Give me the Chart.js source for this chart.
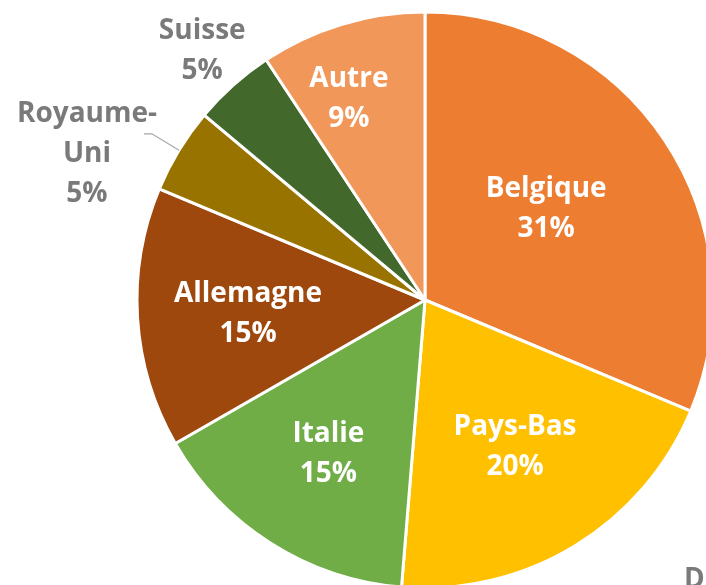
<!DOCTYPE html>
<html>
<head>
<meta charset="utf-8">
<script src="https://cdn.jsdelivr.net/npm/chart.js@4"></script>
<style>
  html, body { margin: 0; padding: 0; background: #fff; }
  #wrap { position: relative; width: 706px; height: 585px; overflow: hidden; }
  #pie { position: absolute; left: 0; top: 0; }
  #cut { position: absolute; left: 684px; top: 558px; font: bold 28px 'Open Sans', sans-serif; color: #7a7a7a; }
</style>
</head>
<body>
<div id="wrap">
  <canvas id="pie" width="850" height="600"></canvas>
  <div id="cut">D</div>
</div>
<script>
const countries = ['Belgique', 'Pays-Bas', 'Italie', 'Allemagne', 'Royaume-Uni', 'Suisse', 'Autre'];
const shares    = [31.3, 20.0, 15.4, 14.6, 4.8, 4.6, 9.3];
// texte affiché (retour à la ligne comme dans l'original)
const labelLines = [['Belgique'], ['Pays-Bas'], ['Italie'], ['Allemagne'], ['Royaume-', 'Uni'], ['Suisse'], ['Autre']];

const COLORS = ['#ED7D31', '#FFC000', '#70AD47', '#9E480E', '#997300', '#43682B', '#F1975A'];

// position des étiquettes : facteur du rayon, décalage d'angle (degrés), intérieur ou non
const LABEL_POS = [
    { f: 0.53, da: -3.8, inside: true },
    { f: 0.593, da: -0.5, inside: true },
    { f: 0.626, da: 0, inside: true },
    { f: 0.616, da: -0.3, inside: true },
    { f: 1.281, da: -7.7, inside: false, leader: true },
    { f: 1.166, da: 0.2, inside: false },
    { f: 0.753, da: -3.8, inside: true }
];

const FONT = "bold 28px 'Open Sans', sans-serif";
const LINE_H = 40;
const TEXT_DY = 2;

const pieLabels = {
    id: 'pieLabels',
    afterDatasetsDraw(chart) {
        const ctx = chart.ctx;
        const arcs = chart.getDatasetMeta(0).data;
        ctx.save();
        ctx.font = FONT;
        ctx.textAlign = 'center';
        ctx.textBaseline = 'middle';
        arcs.forEach((arc, i) => {
            const p = LABEL_POS[i];
            const mid = (arc.startAngle + arc.endAngle) / 2;
            const a = mid + p.da * Math.PI / 180;
            const r = arc.outerRadius * p.f;
            const cx = arc.x + Math.cos(a) * r;
            const cy = arc.y + Math.sin(a) * r + TEXT_DY;

            if (p.leader) {
                const sx = arc.x + Math.cos(mid) * arc.outerRadius;
                const sy = arc.y + Math.sin(mid) * arc.outerRadius;
                const ex = arc.x + Math.cos(mid) * arc.outerRadius * 1.11;
                const ey = arc.y + Math.sin(mid) * arc.outerRadius * 1.11;
                ctx.strokeStyle = '#a6a6a6';
                ctx.lineWidth = 1.2;
                ctx.beginPath();
                ctx.moveTo(sx, sy);
                ctx.lineTo(ex, ey);
                ctx.lineTo(ex - 8, ey);
                ctx.stroke();
            }

            const lines = labelLines[i].concat([Math.round(shares[i]) + '%']);
            ctx.fillStyle = p.inside ? '#ffffff' : '#7a7a7a';
            const top = cy - (lines.length - 1) * LINE_H / 2;
            lines.forEach((t, k) => ctx.fillText(t, cx, top + k * LINE_H));
        });
        ctx.restore();
    }
};

new Chart(document.getElementById('pie').getContext('2d'), {
    type: 'pie',
    data: {
        labels: countries,
        datasets: [{
            data: shares,
            backgroundColor: COLORS,
            borderColor: '#ffffff',
            borderWidth: 3
        }]
    },
    options: {
        responsive: false,
        animation: false,
        radius: 288,
        layout: { padding: 0 },
        plugins: {
            legend: { display: false },
            tooltip: { enabled: false }
        }
    },
    plugins: [pieLabels]
});
</script>
</body>
</html>
